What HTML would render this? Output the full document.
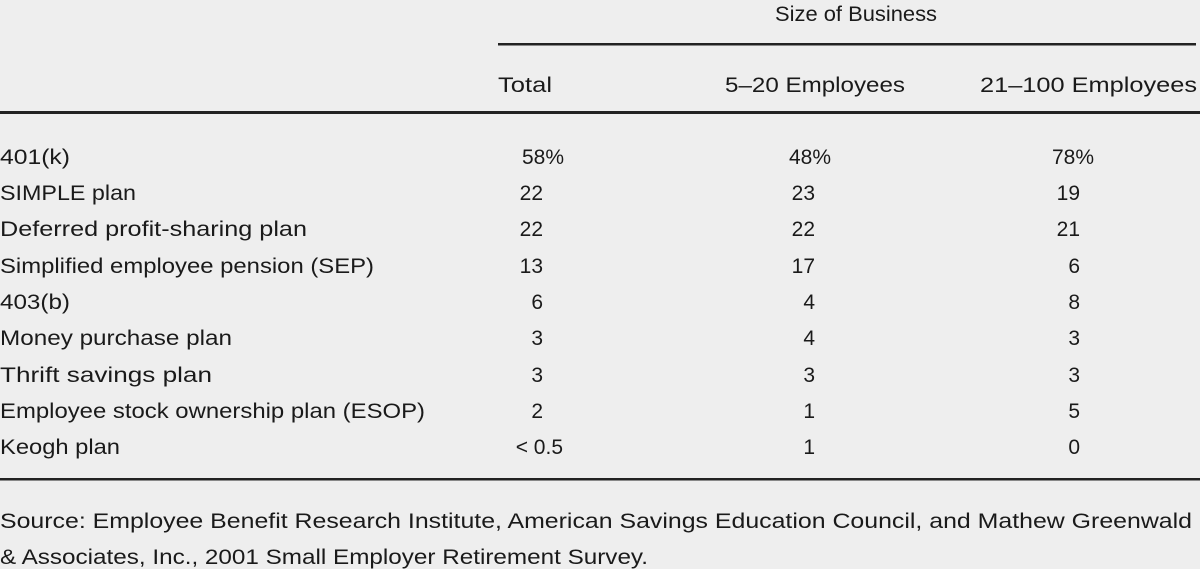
<!DOCTYPE html>
<html><head><meta charset="utf-8"><style>
html,body{margin:0;padding:0;background:#eeeeee;}
svg{display:block;}
text{font-family:"Liberation Sans",Arial,sans-serif;font-size:21px;fill:#1a1a1a;}
</style></head><body>
<svg width="1200" height="569" viewBox="0 0 1200 569">
<rect width="1200" height="569" fill="#eeeeee"/>
<text x="775" y="21" textLength="162" lengthAdjust="spacingAndGlyphs">Size of Business</text>
<rect x="498" y="43" width="698" height="2.5" fill="#222"/>
<text x="498" y="92" textLength="54" lengthAdjust="spacingAndGlyphs">Total</text>
<text x="725" y="92" textLength="180" lengthAdjust="spacingAndGlyphs">5–20 Employees</text>
<text x="980" y="92" textLength="217" lengthAdjust="spacingAndGlyphs">21–100 Employees</text>
<rect x="0" y="111" width="1200" height="3" fill="#222"/>

<g lengthAdjust="spacingAndGlyphs">
<text x="0" y="164" textLength="70" lengthAdjust="spacingAndGlyphs">401(k)</text>
<text x="0" y="200" textLength="136" lengthAdjust="spacingAndGlyphs">SIMPLE plan</text>
<text x="0" y="236" textLength="307" lengthAdjust="spacingAndGlyphs">Deferred profit-sharing plan</text>
<text x="0" y="273" textLength="374" lengthAdjust="spacingAndGlyphs">Simplified employee pension (SEP)</text>
<text x="0" y="309" textLength="70" lengthAdjust="spacingAndGlyphs">403(b)</text>
<text x="0" y="345" textLength="232" lengthAdjust="spacingAndGlyphs">Money purchase plan</text>
<text x="0" y="382" textLength="212" lengthAdjust="spacingAndGlyphs">Thrift savings plan</text>
<text x="0" y="418" textLength="425" lengthAdjust="spacingAndGlyphs">Employee stock ownership plan (ESOP)</text>
<text x="0" y="454" textLength="120" lengthAdjust="spacingAndGlyphs">Keogh plan</text>
</g>

<g text-anchor="end">
<text x="564" y="164">58%</text>
<text x="543" y="200">22</text>
<text x="543" y="236">22</text>
<text x="543" y="273">13</text>
<text x="543" y="309">6</text>
<text x="543" y="345">3</text>
<text x="543" y="382">3</text>
<text x="543" y="418">2</text>
<text x="563" y="454">&lt; 0.5</text>

<text x="831" y="164">48%</text>
<text x="815" y="200">23</text>
<text x="815" y="236">22</text>
<text x="815" y="273">17</text>
<text x="815" y="309">4</text>
<text x="815" y="345">4</text>
<text x="815" y="382">3</text>
<text x="815" y="418">1</text>
<text x="815" y="454">1</text>

<text x="1094" y="164">78%</text>
<text x="1080" y="200">19</text>
<text x="1080" y="236">21</text>
<text x="1080" y="273">6</text>
<text x="1080" y="309">8</text>
<text x="1080" y="345">3</text>
<text x="1080" y="382">3</text>
<text x="1080" y="418">5</text>
<text x="1080" y="454">0</text>
</g>

<rect x="0" y="478" width="1200" height="2.5" fill="#222"/>
<text x="0" y="528" textLength="1192" lengthAdjust="spacingAndGlyphs">Source: Employee Benefit Research Institute, American Savings Education Council, and Mathew Greenwald</text>
<text x="0" y="564" textLength="648" lengthAdjust="spacingAndGlyphs">&amp; Associates, Inc., 2001 Small Employer Retirement Survey.</text>
</svg>
</body></html>
